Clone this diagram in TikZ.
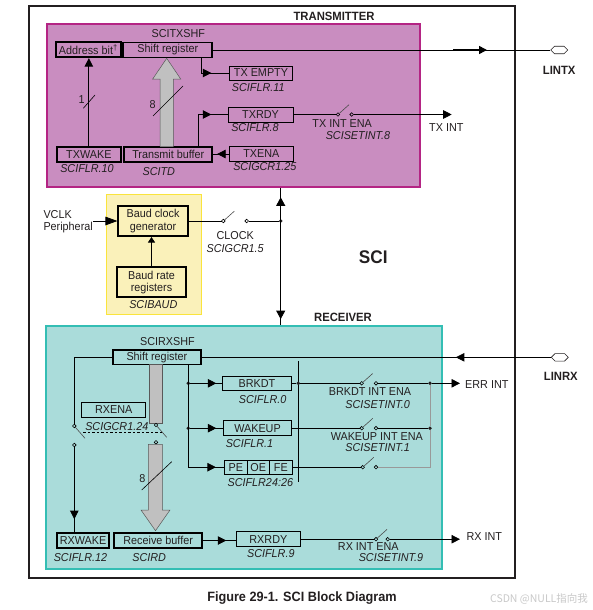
\documentclass[tikz,border=0pt]{standalone}
\usepackage{fontspec}
\setmainfont{Liberation Sans}[FakeStretch=0.94]
\newfontfamily\cjkfont{Noto Sans CJK SC}
\usepackage{tikz}
\usetikzlibrary{arrows.meta,positioning,calc,shapes.symbols,decorations.markings}
\definecolor{txtcol}{RGB}{35,31,32}
\definecolor{txfill}{RGB}{201,141,192}
\definecolor{txdraw}{RGB}{180,36,132}
\definecolor{rxfill}{RGB}{170,220,218}
\definecolor{rxdraw}{RGB}{52,190,180}
\definecolor{yfill}{RGB}{250,241,186}
\definecolor{ydraw}{RGB}{250,228,60}
\definecolor{bargray}{RGB}{192,192,192}
\definecolor{wmgray}{RGB}{200,200,200}
\newcommand{\scifont}{\fontsize{11.5}{12.2}\selectfont}
\tikzset{thickbox/.style={draw, line width=1.7pt, inner sep=0pt, minimum height=15pt}}
\tikzset{thinbox/.style={draw, line width=0.8pt, inner sep=0pt, minimum height=15pt}}
\tikzset{lbl/.style={inner sep=0pt}}
\tikzset{reg/.style={inner sep=0pt, font=\scifont\itshape}}
\tikzset{title/.style={inner sep=0pt, font=\fontsize{12}{13}\selectfont\bfseries}}
\tikzset{wire/.style={line width=0.8pt}}
\tikzset{grayline/.style={line width=0.7pt, draw=gray!80}}
\tikzset{arr/.style={wire, -{Triangle[length=8.5pt,width=8.5pt]}}}
\tikzset{midtip/.style={wire, postaction={decorate}, decoration={markings, mark=at position #1 with {\arrow{Triangle[length=8.5pt,width=8.5pt]}}}}}
\tikzset{jdot/.style={circle, fill=txtcol, inner sep=0pt, minimum size=3.8pt}}
\tikzset{pin/.style={signal, signal to=west and east, draw=txtcol, fill=white, line width=0.6pt, minimum width=17pt, minimum height=7.5pt, inner sep=0pt}}
\tikzset{fatbar/.style={fill=bargray, draw=black!65, line width=0.5pt}}
\tikzset{pics/switch/.style={code={
  \coordinate (-in) at (0,0);
  \coordinate (-out) at (#1,0);
  \draw[line width=0.6pt] (0,0) circle (1.8pt) (#1,0) circle (1.8pt);
  \draw[line width=0.6pt, black!70] (1.3,-1.1) -- (11,-9.8);
}}}
\tikzset{pics/vswitch/.style={code={
  \coordinate (-in) at (0,0);
  \coordinate (-out) at (0,#1);
  \draw[line width=0.6pt] (0,0) circle (1.8pt) (0,#1) circle (1.8pt);
  \draw[line width=0.6pt, black!70] (1.1,1.3) -- (10.7,12.3);
}}}

\begin{document}
\begin{tikzpicture}[x=1pt, y=-1pt, every node/.append style={font=\scifont, text=txtcol}]
  \useasboundingbox (0,0) rectangle (592,610);

  % Marco SCI y bloques de fondo
  \node[draw=txtcol, line width=2pt, minimum width=486pt, minimum height=572pt, inner sep=0pt] (sci) at (272,291.7) {};
  \node[draw=txdraw, fill=txfill, line width=1.8pt, minimum width=372.7pt, minimum height=162.4pt] (txblk) at (233.65,105.5) {};
  \node[draw=rxdraw, fill=rxfill, line width=1.8pt, minimum width=396.6pt, minimum height=243.3pt] (rxblk) at (244,447.65) {};
  \node[draw=ydraw, fill=yfill, line width=0.9pt, minimum width=95pt, minimum height=120pt] (baudblk) at (153.5,254) {};
  \node[title] at (334,16.7) {TRANSMITTER};
  \node[title] at (343,317.3) {RECEIVER};
  \node[font=\fontsize{18.3}{20}\selectfont\bfseries, inner sep=0pt] at (373.3,256.7) {SCI};

  % Transmisor
  \node[lbl] at (178.3,34) {SCITXSHF};
  \node[thickbox, minimum width=65.3pt] (addr) at (88.35,49.8) {Address bit\textsuperscript{†}};
  \node[thickbox, minimum width=89pt] (txsr) at (167.8,50) {Shift register};
  \node[thinbox, minimum width=63.4pt, minimum height=14pt] (txempty) at (261,73) {TX EMPTY};
  \node[reg] at (258.3,88) {SCIFLR.11};
  \node[thinbox, minimum width=65pt] (txrdy) at (260.5,114.5) {TXRDY};
  \node[reg] at (255,128) {SCIFLR.8};
  \node[thickbox, minimum width=64.3pt, minimum height=15.6pt] (txwake) at (88.85,154.5) {TXWAKE};
  \node[reg] at (87,169) {SCIFLR.10};
  \node[thickbox, minimum width=88pt, minimum height=15.6pt] (txbuf) at (168.3,154.5) {Transmit buffer};
  \node[reg] at (158.8,172) {SCITD};
  \node[thinbox, minimum width=64pt] (txena) at (261.3,154) {TXENA};
  \node[reg] at (264.8,167) {SCIGCR1.25};

  \draw[arr] (txwake.north) -- (txwake.north |- addr.south);
  \draw[wire, line width=0.6pt] (83.3,108.3) -- (95,95);
  \node[lbl] at (81.7,99.3) {1};
  \draw[fatbar] (160,146.7) -- (160,79) -- (152.7,79) -- (166.7,58.3) -- (180.7,79) -- (173.3,79) -- (173.3,146.7);
  \draw[line width=0.6pt] (153,116) -- (183,86);
  \node[lbl] at (152.7,105) {8};
  \coordinate (txsrtap) at (201,57.3);
  \coordinate (txbuftap) at (198,146.7);
  \draw[midtip=-17.6pt] (txsrtap) |- (txempty.west);
  \draw[midtip=-16.3pt] (txbuftap) |- (txrdy.west);
  \draw[midtip=-4pt] (txena.west) -- (txena.west -| txbuf.east);

  \pic (swtx) at (338,114.5) {switch=13.7};
  \coordinate (txinttip) at (451.7,114.5);
  \draw[wire, shorten >=1.8pt] (txrdy.east) -- (swtx-in);
  \draw[arr, shorten <=1.8pt] (swtx-out) -- (txinttip);
  \node[lbl] at (342.2,124) {TX INT ENA};
  \node[reg] at (358,136) {SCISETINT.8};
  \node[lbl] (txint) at (446.3,128) {TX INT};

  \node[pin] (lintx) at (559.3,50) {};
  \node[title] at (559.2,70) {LINTX};
  \draw[wire] (txsr.east) -- (lintx.west);
  \coordinate (lintxa) at (453,50);
  \coordinate (lintxb) at (487,50);
  \draw[line width=1.5pt, -{Triangle[length=8pt,width=8pt]}] (lintxa) -- (lintxb);

  % Reloj de baudios
  \node[thickbox, minimum width=69.4pt, minimum height=30.3pt, align=center] (bcg) at (153,221) {Baud clock\\generator};
  \node[thickbox, minimum width=68.4pt, minimum height=30pt, align=center] (brr) at (151.5,282.3) {Baud rate\\registers};
  \node[reg] at (153.3,305) {SCIBAUD};
  \node[lbl, align=left, anchor=west] (vclk) at (43.3,221.7) {VCLK\\Peripheral};
  \draw[wire, -{Triangle[length=12pt,width=8.5pt]}] (vclk.east |- bcg.west) -- (bcg.west);
  \draw[wire, -{Triangle[length=5.5pt,width=7pt]}] (brr.north) -- (brr.north |- bcg.south);

  \pic (swclk) at (223.3,221) {switch=23.4};
  \node[jdot] (jclk) at (280.7,221) {};
  \draw[wire, shorten >=1.8pt] (bcg.east) -- (swclk-in);
  \draw[wire, shorten <=1.8pt] (swclk-out) -- (jclk);
  \node[lbl] at (235.2,236) {CLOCK};
  \node[reg] at (235.2,248.3) {SCIGCR1.5};

  % Bus entre transmisor y receptor
  \coordinate (busx) at (280.7,0);
  \draw[wire, postaction={decorate}, decoration={markings,
      mark=at position 9.7pt with {\arrowreversed{Triangle[length=8.5pt,width=9pt]}},
      mark=at position -6pt with {\arrow{Triangle[length=8.5pt,width=9pt]}}}]
    (txblk.south -| busx) -- (rxblk.north -| busx);

  % Receptor
  \node[lbl] at (167.5,341.7) {SCIRXSHF};
  \node[thickbox, minimum width=88.3pt, minimum height=14.3pt] (rxsr) at (156.85,357.3) {Shift register};
  \node[pin] (linrx) at (559.8,357.3) {};
  \node[title] at (560.8,376) {LINRX};
  \draw[midtip=95pt] (linrx.west) -- (rxsr.east);

  \node[thinbox, minimum width=64pt] (rxena) at (113.7,409.8) {RXENA};
  \node[reg] at (116.8,426.7) {SCIGCR1.24};
  \node[thickbox, minimum width=52.6pt, minimum height=15.6pt] (rxwake) at (83,540.5) {RXWAKE};
  \node[reg] at (80.5,557.3) {SCIFLR.12};
  \node[thickbox, minimum width=88.3pt, minimum height=15.6pt] (rxbuf) at (158.15,540.5) {Receive buffer};
  \node[reg] at (149.2,557.3) {SCIRD};

  \pic (swrl) at (74.3,426) {vswitch=19};
  \draw[wire, shorten >=1.8pt] (rxsr.west) -| (swrl-in);
  \draw[midtip=-12.7pt, shorten <=1.8pt] (swrl-out) -- (swrl-out |- rxwake.north);
  \draw[fatbar] (149,364.45) rectangle (162.3,423);
  \pic (swrg) at (156,425) {vswitch=17.3};
  \draw[fatbar] (148.3,444.3) -- (148.3,510) -- (141,510) -- (155.5,530.7) -- (170,510) -- (162.3,510) -- (162.3,444.3) -- cycle;
  \draw[line width=0.6pt] (141.7,490) -- (171.7,461.7);
  \node[lbl] at (142.3,479) {8};
  \draw[line width=0.6pt, dash pattern=on 2.5pt off 2pt] ($(swrl-in)+(9,6)$) -- ($(swrg-in)+(5.7,7)$);

  % Banderas de error
  \coordinate (rxtap) at (188.3,364.45);
  \node[jdot] (jb1) at (188.3,383.3) {};
  \node[jdot] (jb2) at (188.3,428.2) {};
  \coordinate (jb3) at (188.3,467.2);
  \draw[wire] (rxtap) -- (jb3);
  \node[thinbox, minimum width=69.4pt, minimum height=14.7pt] (brkdt) at (257,383.3) {BRKDT};
  \node[reg] at (262.7,399.3) {SCIFLR.0};
  \node[thinbox, minimum width=68.4pt] (wakeup) at (257.5,428.2) {WAKEUP};
  \node[reg] at (249.5,443.3) {SCIFLR.1};
  \node[thinbox, minimum width=23pt, minimum height=14.3pt] (pe) at (235.8,467.2) {PE};
  \node[thinbox, minimum width=21.7pt, minimum height=14.3pt, right=-0.8pt of pe] (oe) {OE};
  \node[thinbox, minimum width=23.7pt, minimum height=14.3pt, right=-0.8pt of oe] (fe) {FE};
  \node[reg] at (260.3,482.7) {SCIFLR24:26};
  \draw[midtip=-5.6pt] (jb1) -- (brkdt.west);
  \draw[midtip=-6.6pt] (jb2) -- (wakeup.west);
  \draw[midtip=-8pt] (jb3) -- (pe.west);

  \coordinate (flgtop) at (298.3,361);
  \coordinate (flgbot) at (298.3,481.7);
  \draw[wire] (flgtop) -- (flgbot);
  \node[jdot] (jf) at (298.3,383.3) {};

  \pic (swbrk) at (361.7,383.3) {switch=14.3};
  \pic (swwk) at (361.7,428.2) {switch=14.3};
  \pic (swpe) at (362.7,467.2) {switch=13.3};
  \node[jdot] (je1) at (430,383.3) {};
  \node[jdot] (je2) at (430,428.2) {};
  \coordinate (errtip) at (460,383.3);
  \draw[wire] (brkdt.east) -- (jf);
  \draw[wire, shorten >=1.8pt] (jf) -- (swbrk-in);
  \draw[wire, shorten <=1.8pt] (swbrk-out) -- (je1);
  \draw[arr] (je1) -- (errtip);
  \node[lbl, anchor=west] at (465,385) {ERR INT};
  \draw[wire, shorten >=1.8pt] (wakeup.east) -- (swwk-in);
  \draw[wire, shorten <=1.8pt] (swwk-out) -- (je2);
  \draw[wire, shorten >=1.8pt] (fe.east) -- (swpe-in);
  \draw[grayline, shorten <=1.8pt] (swpe-out) -| (je2);
  \draw[grayline] (je2) -- (je1);
  \node[lbl] at (370,391.7) {BRKDT INT ENA};
  \node[reg] at (377.7,404.3) {SCISETINT.0};
  \node[lbl] at (376.8,436.7) {WAKEUP INT ENA};
  \node[reg] at (377.7,447.7) {SCISETINT.1};

  % Buffer de recepcion
  \node[thinbox, minimum width=63.3pt] (rxrdy) at (268.35,539.2) {RXRDY};
  \node[reg] at (270.8,554) {SCIFLR.9};
  \draw[midtip=-10pt] (rxbuf.east) -- (rxbuf.east -| rxrdy.west);
  \pic (swrx) at (376,539.2) {switch=11.7};
  \coordinate (rxtip) at (460,539.2);
  \draw[wire, shorten >=1.8pt] (rxrdy.east) -- (swrx-in);
  \draw[arr, shorten <=1.8pt] (swrx-out) -- (rxtip);
  \node[lbl] at (484.3,536.7) {RX INT};
  \node[lbl] at (368.3,546.6) {RX INT ENA};
  \node[reg] at (391,558) {SCISETINT.9};

  % Pie de figura
  \node[font=\fontsize{13.5}{15}\selectfont\bfseries, inner sep=0pt] at (302,598.3) {Figure 29-1. SCI Block Diagram};
  \node[font=\cjkfont\fontsize{10.5}{12}\selectfont, text=wmgray, inner sep=0pt] at (539,599.3) {CSDN @NULL指向我};
\end{tikzpicture}
\end{document}
